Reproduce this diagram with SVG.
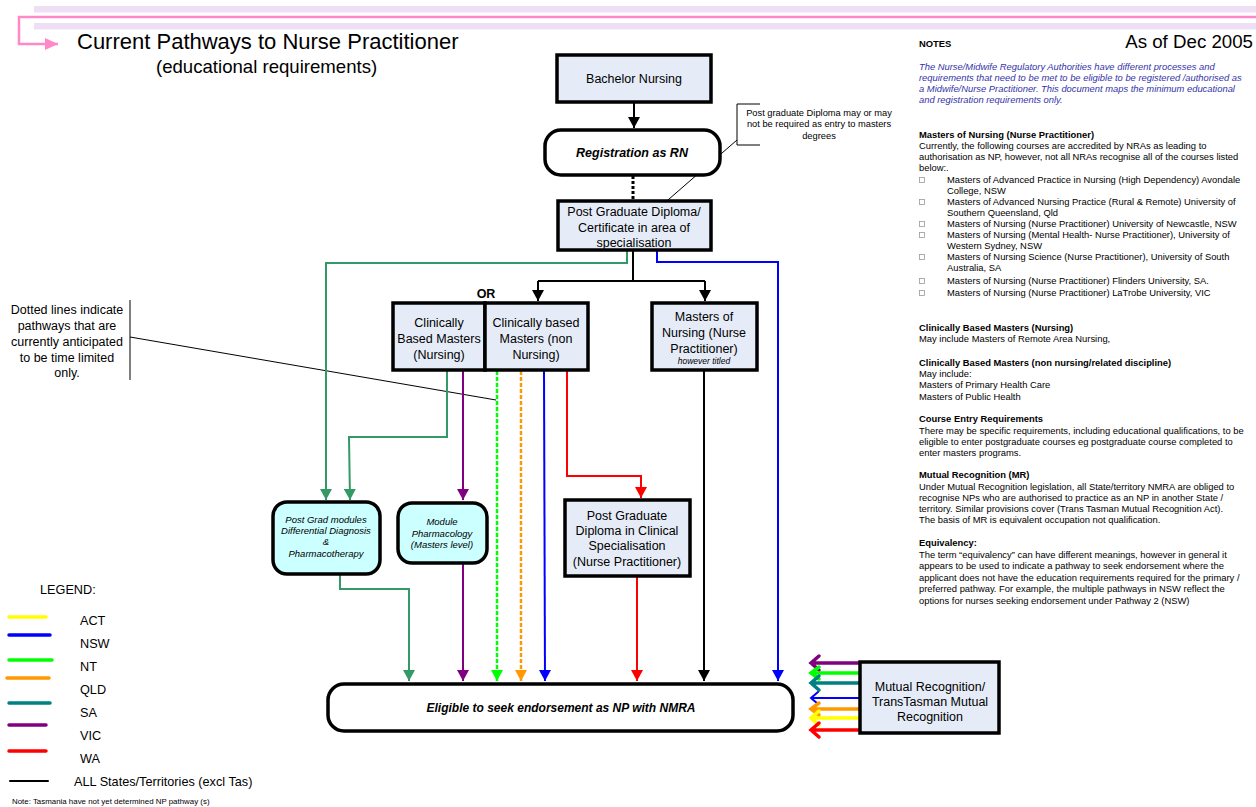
<svg xmlns="http://www.w3.org/2000/svg" width="1256" height="807" viewBox="0 0 1256 807">
<style>
text{font-family:"Liberation Sans",Arial,sans-serif;fill:#000}
.box{fill:#e6ecf7;stroke:#000;stroke-width:3.5}
.rbox{fill:#fff;stroke:#000;stroke-width:3.5}
.cbox{fill:#ccffff;stroke:#000;stroke-width:3.5}
.n{font-size:9.4px}
.nb{font-size:9.4px;font-weight:bold}
.ni{font-size:9.4px;font-style:italic;fill:#3333a8}
.bt{font-size:12.5px;text-anchor:middle}
.it{font-size:9.5px;font-style:italic;text-anchor:middle}
.ln{fill:none;stroke-width:2}
.lg{font-size:12.7px}
.bul{fill:none;stroke:#999;stroke-width:0.8}
</style>
<defs>
<marker id="aK" markerWidth="12" markerHeight="12" refX="11" refY="6" orient="auto" markerUnits="userSpaceOnUse"><path d="M0,0 L11,6 L0,12 z" fill="#000"/></marker>
<marker id="aG" markerWidth="12" markerHeight="12" refX="11" refY="6" orient="auto" markerUnits="userSpaceOnUse"><path d="M0,0 L11,6 L0,12 z" fill="#339966"/></marker>
<marker id="aB" markerWidth="12" markerHeight="12" refX="11" refY="6" orient="auto" markerUnits="userSpaceOnUse"><path d="M0,0 L11,6 L0,12 z" fill="#0000ff"/></marker>
<marker id="aP" markerWidth="12" markerHeight="12" refX="11" refY="6" orient="auto" markerUnits="userSpaceOnUse"><path d="M0,0 L11,6 L0,12 z" fill="#800080"/></marker>
<marker id="aR" markerWidth="12" markerHeight="12" refX="11" refY="6" orient="auto" markerUnits="userSpaceOnUse"><path d="M0,0 L11,6 L0,12 z" fill="#ff0000"/></marker>
<marker id="aL" markerWidth="12" markerHeight="12" refX="11" refY="6" orient="auto" markerUnits="userSpaceOnUse"><path d="M0,0 L11,6 L0,12 z" fill="#00ff00"/></marker>
<marker id="aO" markerWidth="12" markerHeight="12" refX="11" refY="6" orient="auto" markerUnits="userSpaceOnUse"><path d="M0,0 L11,6 L0,12 z" fill="#ff9900"/></marker>
<marker id="aPink" markerWidth="14" markerHeight="12" refX="13" refY="6" orient="auto" markerUnits="userSpaceOnUse"><path d="M0,0 L13,6 L0,12 z" fill="#ff88c8"/></marker>
</defs>

<!-- header -->
<g id="header">
<rect x="34" y="6" width="1222" height="6.5" fill="#efdff5"/>
<rect x="34" y="23" width="1222" height="6.5" fill="#efdff5"/>
<path d="M1256,17 L19,17 L19,44 L58,44" fill="none" stroke="#ff88c8" stroke-width="2.5" marker-end="url(#aPink)"/>
<text x="77" y="49" font-size="22">Current Pathways to Nurse Practitioner</text>
<text x="156" y="73" font-size="18.6">(educational requirements)</text>
<text x="1253" y="48" font-size="18.7" text-anchor="end">As of Dec 2005</text>
</g>

<!-- notes -->
<g id="notes">
<text x="919" y="47" class="nb">NOTES</text>
<text x="919" y="70" class="ni">The Nurse/Midwife Regulatory Authorities have different processes and</text>
<text x="919" y="81" class="ni">requirements that need to be met to be eligible to be registered /authorised as</text>
<text x="919" y="92" class="ni">a Midwife/Nurse Practitioner.  This document maps the minimum educational</text>
<text x="919" y="103" class="ni">and registration requirements only.</text>

<text x="919" y="138" class="nb">Masters of Nursing (Nurse Practitioner)</text>
<text x="919" y="149" class="n">Currently, the following courses are accredited by NRAs as leading to</text>
<text x="919" y="160" class="n">authorisation as NP, however, not all NRAs recognise all of the  courses listed</text>
<text x="919" y="171" class="n">below:.</text>
<rect x="919.5" y="177.5" width="5" height="5" class="bul"/><text x="947" y="183" class="n">Masters of Advanced Practice in Nursing (High Dependency) Avondale</text>
<text x="947" y="194" class="n">College, NSW</text>
<rect x="919.5" y="199.5" width="5" height="5" class="bul"/><text x="947" y="205" class="n">Masters of Advanced Nursing Practice (Rural &amp; Remote) University of</text>
<text x="947" y="216" class="n">Southern Queensland, Qld</text>
<rect x="919.5" y="221.5" width="5" height="5" class="bul"/><text x="947" y="227" class="n">Masters of Nursing (Nurse Practitioner) University of Newcastle, NSW</text>
<rect x="919.5" y="232.5" width="5" height="5" class="bul"/><text x="947" y="238" class="n">Masters of Nursing (Mental Health- Nurse Practitioner), University of</text>
<text x="947" y="249" class="n">Western Sydney, NSW</text>
<rect x="919.5" y="254.5" width="5" height="5" class="bul"/><text x="947" y="260" class="n">Masters of Nursing Science (Nurse Practitioner), University of South</text>
<text x="947" y="271" class="n">Australia, SA</text>
<rect x="919.5" y="278.5" width="5" height="5" class="bul"/><text x="947" y="284" class="n">Masters of Nursing (Nurse Practitioner) Flinders University, SA.</text>
<rect x="919.5" y="290.5" width="5" height="5" class="bul"/><text x="947" y="296" class="n">Masters of Nursing (Nurse Practitioner) LaTrobe University, VIC</text>

<text x="919" y="331" class="nb">Clinically Based Masters (Nursing)</text>
<text x="919" y="342" class="n">May include Masters of Remote Area Nursing,</text>

<text x="919" y="366" class="nb">Clinically Based Masters (non nursing/related discipline)</text>
<text x="919" y="377" class="n">May include:</text>
<text x="919" y="388" class="n">Masters of Primary Health Care</text>
<text x="919" y="400" class="n">Masters of Public Health</text>

<text x="919" y="422" class="nb">Course Entry Requirements</text>
<text x="919" y="434" class="n">There may be specific requirements, including educational qualifications, to be</text>
<text x="919" y="445" class="n">eligible to enter postgraduate courses eg postgraduate course completed to</text>
<text x="919" y="456" class="n">enter masters programs.</text>

<text x="919" y="478" class="nb">Mutual Recognition (MR)</text>
<text x="919" y="490" class="n">Under Mutual Recognition legislation, all State/territory NMRA are obliged to</text>
<text x="919" y="501" class="n">recognise NPs who are authorised to practice as an NP in another State /</text>
<text x="919" y="512" class="n">territory.  Similar provisions cover (Trans Tasman Mutual Recognition Act).</text>
<text x="919" y="523" class="n">The basis of MR is equivalent occupation not qualification.</text>

<text x="919" y="546" class="nb">Equivalency:</text>
<text x="919" y="558" class="n">The term “equivalency” can have different meanings, however in general it</text>
<text x="919" y="569" class="n">appears to be used to indicate a pathway to seek endorsement where the</text>
<text x="919" y="581" class="n">applicant does not have the education requirements required for the primary /</text>
<text x="919" y="592" class="n">preferred pathway.   For example, the multiple pathways in NSW reflect the</text>
<text x="919" y="604" class="n">options for nurses seeking endorsement under Pathway 2 (NSW)</text>
</g>

<!-- connectors -->
<g id="connectors">
<path d="M634,102 L634,128" class="ln" stroke="#000" stroke-width="2.5" marker-end="url(#aK)"/>
<path d="M633,176 L633,201" fill="none" stroke="#000" stroke-width="3" stroke-dasharray="3,2"/>
<path d="M760,104 L737,104 L737,145 L760,145" fill="none" stroke="#000" stroke-width="1"/>
<path d="M737,140 L661,206" fill="none" stroke="#000" stroke-width="1"/>
<path d="M130,300 L130,380" fill="none" stroke="#000" stroke-width="1"/>
<path d="M130,337 L496,400" fill="none" stroke="#000" stroke-width="1"/>

<path d="M627,251 L627,263 L326,263 L326,500" class="ln" stroke="#339966" marker-end="url(#aG)"/>
<path d="M633,251 L633,281 M538,281 L705,281" class="ln" stroke="#000"/>
<path d="M538,281 L538,301" class="ln" stroke="#000" marker-end="url(#aK)"/>
<path d="M705,281 L705,301" class="ln" stroke="#000" marker-end="url(#aK)"/>
<path d="M657,251 L657,262 L778,262 L778,681" class="ln" stroke="#0000ff" marker-end="url(#aB)"/>

<path d="M425,370 L463,370 L463,500" class="ln" stroke="#800080" marker-end="url(#aP)"/>
<path d="M447,371 L447,437 L349,437 L350,500" class="ln" stroke="#339966" marker-end="url(#aG)"/>
<path d="M340,575 L340,589 L409,589 L409,681" class="ln" stroke="#339966" marker-end="url(#aG)"/>
<path d="M463,563 L463,681" class="ln" stroke="#800080" marker-end="url(#aP)"/>

<path d="M497,371 L497,681" fill="none" stroke="#00ff00" stroke-width="2.5" stroke-dasharray="4,2" marker-end="url(#aL)"/>
<path d="M521,371 L521,681" fill="none" stroke="#ff9900" stroke-width="2.5" stroke-dasharray="4,2" marker-end="url(#aO)"/>
<path d="M544,371 L545,681" class="ln" stroke="#0000ff" marker-end="url(#aB)"/>
<path d="M567,371 L567,476 L641,476 L641,498" class="ln" stroke="#ff0000" marker-end="url(#aR)"/>
<path d="M637,577 L637,681" class="ln" stroke="#ff0000" marker-end="url(#aR)"/>
<path d="M704,371 L704,681" class="ln" stroke="#000" marker-end="url(#aK)"/>

<g fill="none" stroke-linecap="round">
<path d="M860,663 L811,663 M819,656 L811,663 L819,670" stroke="#800080" stroke-width="3.5"/>
<path d="M860,673 L811,673 M819,667 L811,673 L819,679" stroke="#00ff00" stroke-width="3.5"/>
<path d="M860,683 L811,683 M819,676 L811,683 L819,690" stroke="#008080" stroke-width="3.5"/>
<path d="M860,698 L811,698 M818,692 L811,698 L818,704" stroke="#0000ff" stroke-width="2"/>
<path d="M860,709 L811,709 M819,703 L811,709 L819,715" stroke="#ff9900" stroke-width="3.5"/>
<path d="M860,718 L811,718 M819,711 L811,718 L819,725" stroke="#ffff00" stroke-width="3.5"/>
<path d="M860,730 L811,730 M819,723 L811,730 L819,737" stroke="#ff0000" stroke-width="3.5"/>
</g>
</g>

<!-- nodes -->
<g id="bachelor">
<rect x="557" y="55" width="154" height="47" class="box"/>
<text x="634" y="83" class="bt">Bachelor Nursing</text>
</g>
<g id="registration">
<rect x="545" y="130" width="175" height="45" rx="16" class="rbox"/>
<text x="632" y="157" class="bt" font-weight="bold" font-style="italic">Registration as RN</text>
</g>
<g id="pgdiploma">
<rect x="558" y="201" width="153" height="49" class="box"/>
<text x="634" y="216" class="bt">Post Graduate Diploma/</text>
<text x="634" y="232" class="bt">Certificate in area of</text>
<text x="634" y="247" class="bt">specialisation</text>
</g>
<g id="callout">
<text x="819" y="116" font-size="9.3" text-anchor="middle">Post graduate Diploma may or may</text>
<text x="819" y="127" font-size="9.3" text-anchor="middle">not be required as entry to masters</text>
<text x="819" y="139" font-size="9.3" text-anchor="middle">degrees</text>
</g>
<g id="or-label">
<text x="486" y="298" font-size="12.5" font-weight="bold" text-anchor="middle">OR</text>
</g>
<g id="cbm-nursing">
<rect x="393" y="303" width="92" height="67" class="box"/>
<text x="439" y="327" class="bt">Clinically</text>
<text x="439" y="343" class="bt">Based Masters</text>
<text x="439" y="359" class="bt">(Nursing)</text>
</g>
<g id="cbm-non-nursing">
<rect x="485" y="303" width="103" height="67" class="box"/>
<text x="536" y="327" class="bt">Clinically based</text>
<text x="536" y="343" class="bt">Masters (non</text>
<text x="536" y="359" class="bt">Nursing)</text>
</g>
<g id="mn-np">
<rect x="652" y="303" width="105" height="67" class="box"/>
<text x="704" y="321" class="bt">Masters of</text>
<text x="704" y="337" class="bt">Nursing (Nurse</text>
<text x="704" y="353" class="bt">Practitioner)</text>
<text x="704" y="364" font-size="8.5" font-style="italic" text-anchor="middle">however titled</text>
</g>
<g id="dotted-note">
<text x="67" y="314" class="bt">Dotted lines indicate</text>
<text x="67" y="330" class="bt">pathways that are</text>
<text x="67" y="346" class="bt">currently anticipated</text>
<text x="67" y="362" class="bt">to be time limited</text>
<text x="67" y="377" class="bt">only.</text>
</g>
<g id="pg-modules">
<rect x="273" y="502" width="107" height="72" rx="14" class="cbox"/>
<text x="326" y="523" class="it">Post Grad modules</text>
<text x="326" y="534" class="it">Differential Diagnosis</text>
<text x="326" y="545" class="it">&amp;</text>
<text x="326" y="557" class="it">Pharmacotherapy</text>
</g>
<g id="module-pharm">
<rect x="398" y="503" width="89" height="60" rx="14" class="cbox"/>
<text x="442" y="525" class="it">Module</text>
<text x="442" y="537" class="it">Pharmacology</text>
<text x="442" y="548" class="it">(Masters level)</text>
</g>
<g id="pgd-clinical">
<rect x="565" y="500" width="125" height="76" class="box"/>
<text x="627" y="520" class="bt">Post Graduate</text>
<text x="627" y="535" class="bt">Diploma in Clinical</text>
<text x="627" y="550" class="bt">Specialisation</text>
<text x="627" y="566" class="bt">(Nurse Practitioner)</text>
</g>
<g id="eligible">
<rect x="328" y="684" width="465" height="47" rx="16" class="rbox"/>
<text x="561" y="712" font-size="12" font-weight="bold" font-style="italic" text-anchor="middle">Eligible to seek endorsement as NP with NMRA</text>
</g>
<g id="mutual">
<rect x="860" y="662" width="139" height="71" class="box"/>
<text x="930" y="691" class="bt">Mutual Recognition/</text>
<text x="930" y="706" class="bt">TransTasman Mutual</text>
<text x="930" y="721" class="bt">Recognition</text>
</g>

<!-- legend -->
<g id="legend" stroke-linecap="round">
<text x="40" y="594" class="lg">LEGEND:</text>
<line x1="9" y1="617" x2="46" y2="617" stroke="#ffff00" stroke-width="3.5"/><text x="80" y="625" class="lg">ACT</text>
<line x1="9" y1="635" x2="50" y2="635" stroke="#0000ff" stroke-width="3.5"/><text x="80" y="648" class="lg">NSW</text>
<line x1="9" y1="660" x2="52" y2="660" stroke="#00ff00" stroke-width="3.5"/><text x="80" y="671" class="lg">NT</text>
<line x1="7" y1="678" x2="49" y2="678" stroke="#ff9900" stroke-width="3.5"/><text x="80" y="694" class="lg">QLD</text>
<line x1="9" y1="703" x2="50" y2="703" stroke="#008080" stroke-width="3.5"/><text x="80" y="717" class="lg">SA</text>
<line x1="9" y1="725" x2="46" y2="725" stroke="#800080" stroke-width="3.5"/><text x="80" y="740" class="lg">VIC</text>
<line x1="9" y1="751" x2="46" y2="751" stroke="#ff0000" stroke-width="3.5"/><text x="80" y="763" class="lg">WA</text>
<line x1="10" y1="781" x2="48" y2="781" stroke="#000" stroke-width="2"/><text x="74" y="786" class="lg">ALL States/Territories (excl Tas)</text>
<text x="12" y="804" font-size="7.9">Note: Tasmania have not yet determined NP pathway (s)</text>
</g>
</svg>
